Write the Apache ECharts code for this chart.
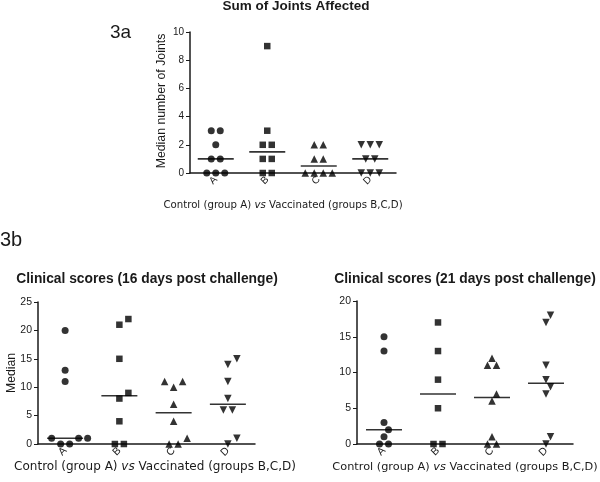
<!DOCTYPE html>
<html><head><meta charset="utf-8">
<script src="https://cdn.jsdelivr.net/npm/echarts@6/dist/echarts.min.js"></script>
<style>html,body{margin:0;padding:0;background:#fff}#c{width:600px;height:482px}</style>
</head><body><div id="c"></div>
<script>
const categories = ['A', 'B', 'C', 'D'];
// Fig 3a: sum of joints affected
const jointsA = [0, 0, 0, 1, 1, 2, 3, 3];
const jointsB = [0, 0, 1, 1, 2, 2, 3, 9];
const jointsC = [0, 0, 0, 0, 1, 1, 2, 2];
const jointsD = [0, 0, 0, 1, 1, 2, 2, 2];
// Fig 3b: clinical scores, 16 days post challenge
const day16A = [0, 0, 1, 1, 1, 11, 13, 20];
const day16B = [0, 0, 4, 8, 9, 15, 21, 22];
const day16C = [0, 0, 1, 4, 7, 10, 11, 11];
const day16D = [0, 1, 6, 6, 8, 11, 14, 15];
// Fig 3b: clinical scores, 21 days post challenge
const day21A = [0, 0, 1, 2, 3, 13, 15];
const day21B = [0, 0, 5, 9, 13, 17];
const day21C = [0, 0, 1, 6, 7, 11, 11, 12];
const day21D = [0, 1, 7, 8, 9, 11, 17, 18];
// y axis ranges
const jointsAxis = { max: 10, interval: 2 };
const day16Axis = { max: 25, interval: 5 };
const day21Axis = { max: 20, interval: 5 };

const FONT = '"Liberation Sans", Arial, sans-serif';
const WIDE = '"DejaVu Sans", Verdana, sans-serif';
const INK = '#1a1a1a';
const symbols = ['circle', 'rect', 'triangle', 'triangle'];
const symbolRot = [0, 0, 0, 180];
const symbolSizes = [7, 6.5, 7.5, 7.5];

const panels = [
  { groups: [jointsA, jointsB, jointsC, jointsD], axis: jointsAxis,
    grid: { left: 190, top: 32, width: 206, height: 141 }, labelSize: 10 },
  { groups: [day16A, day16B, day16C, day16D], axis: day16Axis,
    grid: { left: 38, top: 302, width: 217, height: 142 }, labelSize: 10.5 },
  { groups: [day21A, day21B, day21C, day21D], axis: day21Axis,
    grid: { left: 357, top: 301, width: 216, height: 143 }, labelSize: 10.5 }
];

function median(arr) {
  const s = arr.slice().sort((a, b) => a - b);
  const n = s.length;
  return n % 2 ? s[(n - 1) / 2] : (s[n / 2 - 1] + s[n / 2]) / 2;
}

// GraphPad-like horizontal spreading of points that would overlap (in pixels)
function spread(values, pxPerY) {
  const s = 9, d = 8;
  const sorted = values.slice().sort((a, b) => a - b);
  const rows = [];
  sorted.forEach(v => {
    if (rows.length && rows[rows.length - 1].v === v) rows[rows.length - 1].n++;
    else rows.push({ v, n: 1 });
  });
  const placed = [];
  const free = (x, v) => placed.every(p => Math.hypot(p.x - x, (p.v - v) * pxPerY) >= d);
  const cands = [0];
  for (let k = 1; k < 40; k++) { cands.push(k * s / 2, -k * s / 2); }
  rows.forEach(r => {
    const sym = [];
    for (let k = 0; k < r.n; k++) sym.push((k - (r.n - 1) / 2) * s);
    if (sym.every(x => free(x, r.v))) {
      sym.forEach(x => placed.push({ x, v: r.v }));
    } else {
      for (let k = 0; k < r.n; k++) {
        const x = cands.find(c => free(c, r.v));
        placed.push({ x, v: r.v });
      }
    }
  });
  return placed;
}

const option = {
  animation: false,
  backgroundColor: '#fff',
  grid: panels.map(p => p.grid),
  xAxis: [], yAxis: [], series: [],
  graphic: []
};

panels.forEach((p, i) => {
  option.xAxis.push({
    type: 'category', gridIndex: i, data: categories, boundaryGap: true,
    axisLine: { onZero: false, lineStyle: { color: INK, width: 1.5 } },
    axisTick: { alignWithLabel: true, length: 3, lineStyle: { color: INK, width: 1 } },
    axisLabel: { rotate: 45, color: INK, fontSize: p.labelSize, fontFamily: FONT, margin: 5 },
    splitLine: { show: false }
  });
  option.xAxis.push({ type: 'value', gridIndex: i, min: -0.5, max: 3.5, show: false });
  option.yAxis.push({
    type: 'value', gridIndex: i, min: 0, max: p.axis.max, interval: p.axis.interval,
    axisLine: { show: true, onZero: false, lineStyle: { color: INK, width: 1.5 } },
    axisTick: { show: true, length: 4, lineStyle: { color: INK, width: 1 } },
    axisLabel: { color: INK, fontSize: p.labelSize, fontFamily: FONT, margin: 6 },
    splitLine: { show: false }
  });
  const pxPerX = p.grid.width / 4;
  const pxPerY = p.grid.height / p.axis.max;
  p.groups.forEach((vals, g) => {
    const pts = spread(vals, pxPerY);
    option.series.push({
      type: 'scatter', xAxisIndex: 2 * i + 1, yAxisIndex: i,
      symbol: symbols[g], symbolRotate: symbolRot[g], symbolSize: symbolSizes[g],
      itemStyle: { color: '#000' },
      data: pts.map(q => [g + q.x / pxPerX, q.v]),
      z: 3
    });
  });
  option.series.push({
    type: 'custom', xAxisIndex: 2 * i + 1, yAxisIndex: i, z: 2,
    data: p.groups.map((vals, g) => [g, median(vals)]),
    renderItem: (params, api) => {
      const c = api.coord([api.value(0), api.value(1)]);
      return { type: 'line', shape: { x1: c[0] - 18, y1: c[1], x2: c[0] + 18, y2: c[1] },
        style: { stroke: '#333', lineWidth: 1.6 } };
    }
  });
});

const xName = (x, y, size) => ({
  type: 'text', x, y,
  style: {
    text: '{n|Control (group A) }{i|vs}{n| Vaccinated (groups B,C,D)}',
    align: 'center', verticalAlign: 'middle', fill: INK,
    rich: {
      n: { fontFamily: WIDE, fontSize: size, fill: INK },
      i: { fontFamily: WIDE, fontSize: size, fontStyle: 'italic', fill: INK }
    }
  }
});

option.graphic = [
  { type: 'text', left: 110, top: 23, style: { text: '3a', font: '19px ' + FONT, fill: INK } },
  { type: 'text', x: 296, y: 6, style: { text: 'Sum of Joints Affected', align: 'center', verticalAlign: 'middle', font: 'bold 13.5px ' + FONT, fill: INK } },
  { type: 'text', x: 162, y: 101, rotation: Math.PI / 2, style: { text: 'Median number of Joints', align: 'center', verticalAlign: 'middle', font: '12.3px ' + FONT, fill: INK } },
  xName(283, 205, 10.2),
  { type: 'text', left: 0, top: 230, style: { text: '3b', font: '20px ' + FONT, fill: INK } },
  { type: 'text', x: 147, y: 279, style: { text: 'Clinical scores (16 days post challenge)', align: 'center', verticalAlign: 'middle', font: 'bold 13.8px ' + FONT, fill: INK } },
  { type: 'text', x: 465, y: 279, style: { text: 'Clinical scores (21 days post challenge)', align: 'center', verticalAlign: 'middle', font: 'bold 13.8px ' + FONT, fill: INK } },
  { type: 'text', x: 12, y: 373, rotation: Math.PI / 2, style: { text: 'Median', align: 'center', verticalAlign: 'middle', font: '12.2px ' + FONT, fill: INK } },
  xName(155, 467, 12),
  xName(465, 467, 11.3)
];

const chart = echarts.init(document.getElementById('c'));
chart.setOption(option);
</script>
</body></html>
